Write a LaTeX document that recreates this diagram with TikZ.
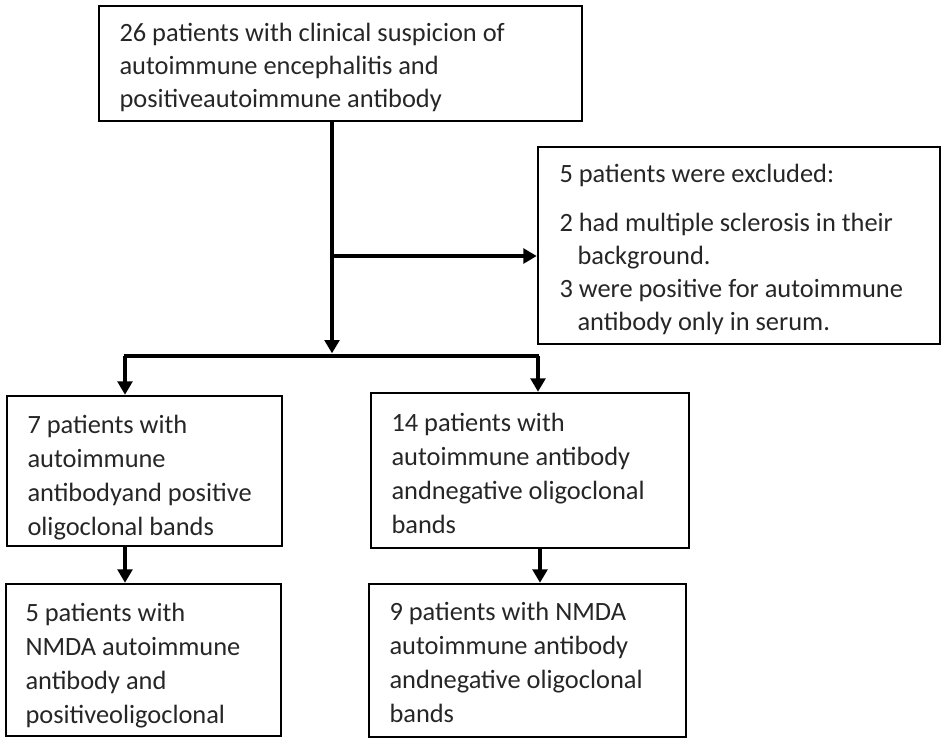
\documentclass[tikz,border=0pt]{standalone}
\usepackage{fontspec}
\setmainfont{Carlito}
\usetikzlibrary{arrows.meta,fit}
\tikzset{every picture/.style={line width=0.75pt}}
\tikzset{
  box/.style={draw, line width=1.9pt, inner sep=0pt},
  txt/.style={anchor=base west, inner sep=0pt, align=left, text=black!85, font=\fontsize{19.8pt}{25.5pt}\selectfont},
  flow/.style={line width=2.5pt},
  arr/.style={flow, -{Triangle[length=10pt, width=11pt]}}
}

\begin{document}
\begin{tikzpicture}[x=0.75pt,y=0.75pt,yscale=-1,xscale=1]
\useasboundingbox (0,0) rectangle (946,743);

%Shape: Rectangle [id:top]
\node [box, fit={(99,6) (582,121)}] (top) {};
%Shape: Rectangle [id:excl]
\node [box, fit={(538,147) (940,344)}] (excl) {};
%Shape: Rectangle [id:posOCB]
\node [box, fit={(7,396) (282,546)}] (posOCB) {};
%Shape: Rectangle [id:negOCB]
\node [box, fit={(371,393) (689,548)}] (negOCB) {};
%Shape: Rectangle [id:posNMDA]
\node [box, fit={(6,584) (281,736)}] (posNMDA) {};
%Shape: Rectangle [id:negNMDA]
\node [box, fit={(369,584) (686,737)}] (negNMDA) {};

% Text Node (anchored at the last line)
\node [txt, font=\fontsize{19.8pt}{24.5pt}\selectfont] (topTxt) at (119,107) {26 patients with clinical suspicion of\\autoimmune encephalitis and\\positiveautoimmune antibody};
% Text Node
\node [txt, font=\fontsize{19.8pt}{24.75pt}\selectfont] (exclTxt) at (559,330) {5 patients were excluded:\\[12pt]2 had multiple sclerosis in their\\\hspace*{13.5pt}background.\\3 were positive for autoimmune\\\hspace*{13.5pt}antibody only in serum.};
% Text Node
\node [txt] (posOCBTxt) at (27,535) {7 patients with\\autoimmune\\antibodyand positive\\oligoclonal bands};
% Text Node
\node [txt] (negOCBTxt) at (391,533) {14 patients with\\autoimmune antibody\\andnegative oligoclonal\\bands};
% Text Node
\node [txt] (posNMDATxt) at (25,723) {5 patients with\\NMDA autoimmune\\antibody and\\positiveoligoclonal};
% Text Node
\node [txt] (negNMDATxt) at (389,722) {9 patients with NMDA\\autoimmune antibody\\andnegative oligoclonal\\bands};

%Connectors
\coordinate (split) at (332,256);
\coordinate (barM) at (332,356);
\coordinate (barL) at (125,356);
\coordinate (barR) at (538,356);

\draw [arr, shorten >=2pt] (split |- top.south) -- (barM);
\draw [arr] (split) -- (split -| excl.west);
\draw [flow] ([xshift=-1pt]barL) -- ([xshift=1pt]barR);
\draw [arr] (barL) -- (barL |- posOCB.north);
\draw [arr] (barR) -- (barR |- negOCB.north);
\draw [arr] (barL |- posOCB.south) -- (barL |- posNMDA.north);
\draw [arr] ([xshift=1.5pt]barR |- negOCB.south) -- ([xshift=1.5pt]barR |- negNMDA.north);

\end{tikzpicture}
\end{document}
